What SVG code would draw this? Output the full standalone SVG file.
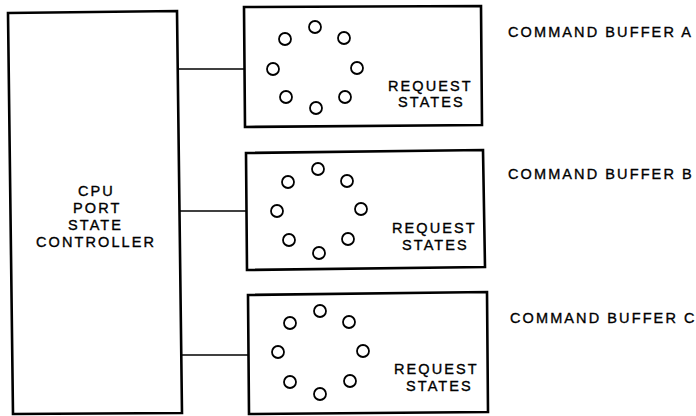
<svg xmlns="http://www.w3.org/2000/svg" width="696" height="416" viewBox="0 0 696 416">
<style>
.box{fill:none;stroke:#000;stroke-width:2.6;stroke-linejoin:miter}
.st{fill:#fff;stroke:#000;stroke-width:1.8}
.conn{stroke:#000;stroke-width:1.6;fill:none}
text{font-family:"Liberation Sans",Arial,sans-serif;font-size:14.5px;fill:#000;stroke:#000;stroke-width:0.35;letter-spacing:2.1px}
</style>
<rect width="696" height="416" fill="#fff"/>
<g id="connectors">
<line class="conn" x1="177" y1="69" x2="244" y2="69"/>
<line class="conn" x1="180" y1="211" x2="246" y2="211"/>
<line class="conn" x1="182" y1="355" x2="248" y2="355"/>
</g>
<g id="cpu">
<polygon class="box" points="8,13 177,11 182,413 13,414"/>
<text x="78" y="196">CPU</text>
<text x="73" y="213">PORT</text>
<text x="68" y="230">STATE</text>
<text x="36" y="247">CONTROLLER</text>
</g>
<g id="bufferA">
<polygon class="box" points="244,7 481,6 482,125 245,127"/>
<circle class="st" cx="315" cy="27" r="6"/>
<circle class="st" cx="285" cy="39" r="6"/>
<circle class="st" cx="344" cy="38" r="6"/>
<circle class="st" cx="273" cy="69" r="6"/>
<circle class="st" cx="357" cy="68" r="6"/>
<circle class="st" cx="286" cy="97" r="6"/>
<circle class="st" cx="345" cy="97" r="6"/>
<circle class="st" cx="316" cy="108" r="6"/>
<text x="388" y="91">REQUEST</text>
<text x="398" y="107">STATES</text>
<text x="508" y="37">COMMAND BUFFER A</text>
</g>
<g id="bufferB">
<polygon class="box" points="246,153 483,150 485,267 247,270"/>
<circle class="st" cx="318" cy="169" r="6"/>
<circle class="st" cx="288" cy="182" r="6"/>
<circle class="st" cx="347" cy="181" r="6"/>
<circle class="st" cx="277" cy="211" r="6"/>
<circle class="st" cx="361" cy="209" r="6"/>
<circle class="st" cx="289" cy="240" r="6"/>
<circle class="st" cx="348" cy="239" r="6"/>
<circle class="st" cx="319" cy="253" r="6"/>
<text x="392" y="233">REQUEST</text>
<text x="402" y="250">STATES</text>
<text x="508" y="179">COMMAND BUFFER B</text>
</g>
<g id="bufferC">
<polygon class="box" points="248,295 487,292 488,412 249,414"/>
<circle class="st" cx="320" cy="311" r="6"/>
<circle class="st" cx="290" cy="323" r="6"/>
<circle class="st" cx="349" cy="322" r="6"/>
<circle class="st" cx="278" cy="352" r="6"/>
<circle class="st" cx="363" cy="351" r="6"/>
<circle class="st" cx="290" cy="382" r="6"/>
<circle class="st" cx="350" cy="381" r="6"/>
<circle class="st" cx="320" cy="394" r="6"/>
<text x="394" y="374">REQUEST</text>
<text x="406" y="391">STATES</text>
<text x="510" y="323">COMMAND BUFFER C</text>
</g>
</svg>
